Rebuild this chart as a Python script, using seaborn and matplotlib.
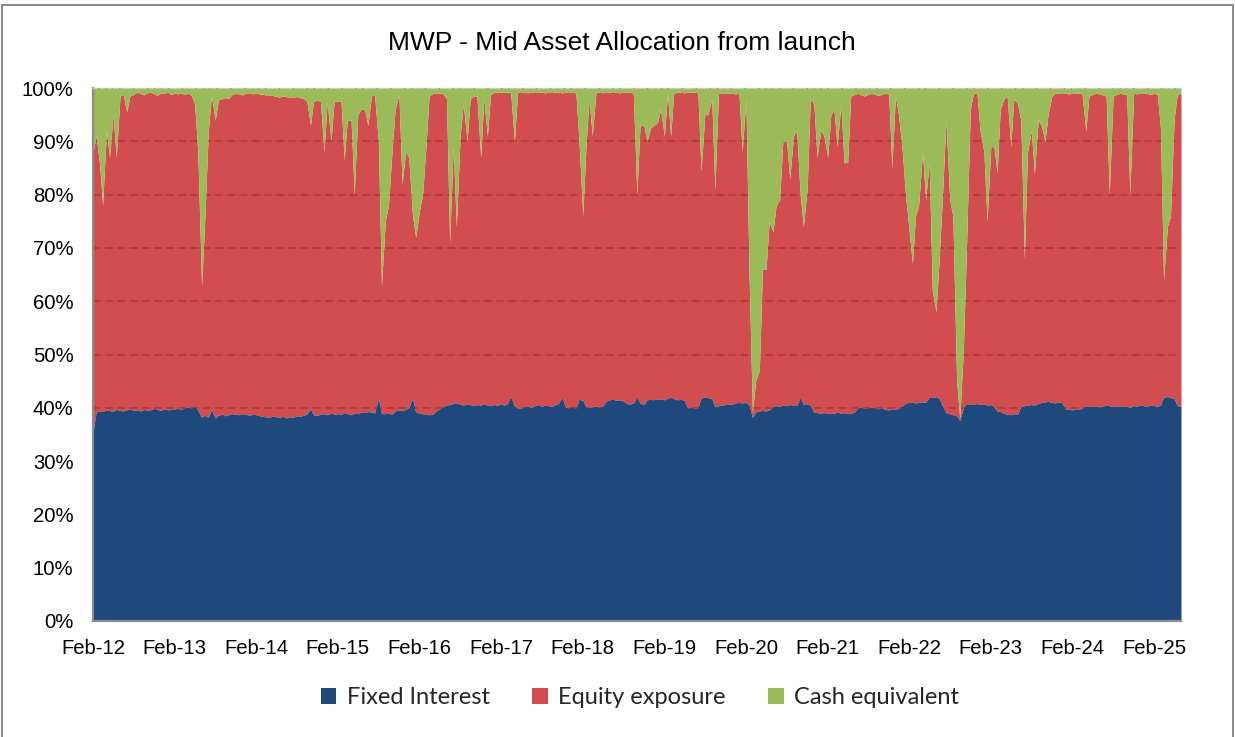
import matplotlib
matplotlib.use("Agg")
import numpy as np
import pandas as pd
import matplotlib.pyplot as plt
import matplotlib.dates as mdates
from matplotlib.patches import Patch, Rectangle
from matplotlib.ticker import FuncFormatter
import seaborn as sns

# ---------------- data (semi-monthly observations, % of portfolio) ----------------
start_date = "2012-02-01"
title_text = "MWP - Mid Asset Allocation from launch"
series_labels = ["Fixed Interest", "Equity exposure", "Cash equivalent"]

fixed_interest = [
    35.5, 39.2, 39.4, 39.3, 39.6, 39.5, 39.3, 39.7, 39.5, 39.4, 39.6, 39.8, 39.5, 39.6, 39.4, 39.7, 39.5, 39.6, 39.9, 39.7, 39.5, 39.8, 39.6, 39.7,
    39.8, 39.9, 39.7, 40.0, 40.1, 40.0, 40.2, 39.6, 38.2, 38.6, 38.2, 39.6, 38.1, 38.6, 38.8, 38.5, 38.7, 38.9, 38.8, 38.7, 38.9, 38.8, 38.6, 38.8,
    38.7, 38.5, 38.4, 38.3, 38.2, 38.5, 38.3, 38.2, 38.4, 38.1, 38.3, 38.2, 38.5, 38.4, 38.6, 38.8, 39.8, 38.7, 38.6, 38.8, 38.9, 38.7, 39.0, 38.8,
    38.9, 38.8, 39.1, 38.9, 38.7, 39.0, 38.9, 39.2, 39.1, 39.3, 39.2, 39.0, 41.8, 38.9, 38.9, 39.0, 38.8, 39.4, 39.6, 39.5, 39.7, 40.0, 41.8, 39.2,
    39.0, 38.9, 38.8, 38.7, 38.8, 39.4, 39.8, 40.2, 40.5, 40.6, 40.8, 40.9, 40.7, 40.5, 40.7, 40.6, 40.4, 40.6, 40.5, 40.8, 40.5, 40.4, 40.6, 40.5,
    40.7, 40.5, 40.8, 42.1, 40.4, 40.0, 39.9, 40.2, 40.3, 40.1, 40.4, 40.6, 40.3, 40.5, 40.4, 40.2, 40.6, 40.8, 42.0, 40.1, 40.0, 40.2, 39.9, 41.6,
    41.4, 40.2, 40.0, 40.2, 40.3, 40.1, 40.3, 41.2, 41.5, 41.6, 41.4, 41.5, 41.3, 40.8, 40.7, 40.9, 42.0, 40.9, 40.6, 41.5, 41.6, 41.5, 41.7, 41.6,
    41.5, 41.8, 42.0, 41.7, 41.5, 41.6, 41.4, 40.0, 40.1, 39.9, 40.0, 41.8, 42.0, 41.9, 41.7, 40.2, 40.4, 40.5, 40.6, 40.7, 40.6, 40.9, 41.0, 40.9,
    41.0, 40.6, 38.2, 39.2, 39.4, 39.5, 39.4, 39.6, 40.2, 40.4, 40.3, 40.5, 40.4, 40.6, 40.5, 40.4, 42.0, 40.6, 40.7, 40.5, 39.2, 39.1, 39.0, 39.1,
    39.0, 38.9, 39.0, 39.2, 39.0, 39.1, 38.9, 39.0, 39.2, 40.0, 40.1, 39.9, 40.0, 40.1, 40.0, 39.8, 40.0, 39.7, 39.6, 39.8, 39.7, 39.9, 40.3, 40.9,
    41.0, 41.1, 40.9, 41.0, 41.1, 41.0, 42.0, 41.9, 42.1, 41.8, 40.2, 39.1, 38.9, 38.7, 38.5, 37.6, 40.0, 40.8, 40.6, 40.7, 40.8, 40.6, 40.7, 40.5,
    40.6, 40.2, 39.4, 39.3, 39.0, 38.8, 38.7, 38.9, 38.8, 40.2, 40.4, 40.5, 40.6, 40.5, 40.8, 41.0, 41.1, 41.2, 41.0, 40.9, 41.1, 41.0, 39.8, 39.7,
    39.6, 39.8, 39.7, 39.9, 40.3, 40.2, 40.4, 40.3, 40.1, 40.3, 40.5, 40.4, 40.2, 40.3, 40.4, 40.2, 40.3, 40.1, 40.4, 40.3, 40.5, 40.4, 40.3, 40.5,
    40.4, 40.3, 40.5, 42.0, 42.1, 41.9, 41.8, 40.4, 40.3,
]

cash_equivalent = [
    12, 9, 14, 22, 8, 13, 5, 13, 1.5, 1.2, 4.5, 1.5, 1.2, 0.8, 1.0, 1.3, 0.9, 0.8, 1.1, 1.4, 0.9, 1.0, 0.8, 1.2,
    1.0, 1.1, 0.9, 1.2, 1.0, 1.3, 3, 12, 37, 25, 8, 1.5, 6, 2.2, 2.0, 1.8, 2.0, 1.2, 1.0, 1.1, 1.3, 1.0, 0.9, 1.1,
    1.0, 1.1, 1.2, 1.3, 1.3, 1.4, 1.6, 1.7, 1.5, 1.6, 1.8, 1.7, 1.6, 1.8, 2.0, 2.5, 7, 2.5, 2.3, 2.5, 12, 2.5, 10, 2.5,
    2.5, 2.5, 13.5, 6, 6, 20, 5, 4, 4, 7, 1.5, 1.2, 10, 37, 25, 22, 12, 4, 1.2, 18, 12, 13, 24, 28,
    23, 20, 11, 1.5, 1.0, 1.0, 1.0, 1.0, 2, 29, 11, 26, 9, 3, 10, 2, 1.5, 1.5, 13, 2, 9, 1.2, 0.8, 0.8,
    0.8, 0.8, 0.8, 0.8, 10, 0.8, 0.7, 0.8, 0.9, 0.8, 0.7, 0.8, 0.8, 0.9, 0.8, 0.7, 0.8, 0.8, 0.9, 0.8, 0.7, 0.8, 0.9, 10,
    24, 11, 2, 9, 0.8, 0.8, 0.9, 0.8, 0.8, 0.7, 0.8, 0.9, 0.8, 0.8, 0.8, 1.0, 20, 7, 7, 10, 7.5, 7, 6.5, 4,
    9, 1, 9, 1, 0.8, 0.8, 0.9, 0.8, 0.8, 0.8, 0.9, 15.6, 5, 5, 2, 19, 1.0, 1.0, 0.9, 1.0, 1.0, 1.1, 1.0, 12,
    2, 35, 61, 55, 53, 34, 34, 25, 27, 22, 21, 10, 10, 17, 9, 8, 20, 26, 19, 2, 3, 13, 8, 9,
    13, 5, 4, 11, 3, 14, 14, 1.5, 1.2, 1.0, 1.3, 1.5, 1.2, 1.0, 1.2, 1.4, 1.2, 1.0, 1.1, 15, 1.5, 5, 12, 20,
    27, 33, 24, 22, 12, 21, 14, 38, 42, 32, 19, 6, 21, 24, 55, 62, 49, 30, 4, 1, 1, 8, 12, 25,
    11, 11, 16, 4, 2, 1.5, 11, 2, 3, 6, 32, 12, 8, 16, 6, 7, 10, 5, 1.5, 1.0, 1.0, 0.9, 1.0, 1.1,
    1.0, 0.9, 1.0, 1.0, 8, 1.5, 1.2, 1.0, 1.1, 1.3, 1.5, 20, 1.5, 1.2, 1.0, 1.1, 1.2, 20, 1.0, 1.1, 1.0, 0.9, 1.0, 1.2,
    1.0, 1.2, 7.5, 36, 26, 24, 6, 1.2, 1.0,
]

y_ticks = [0, 10, 20, 30, 40, 50, 60, 70, 80, 90, 100]

# ---------------- build frame ----------------
dates = pd.date_range(start_date, periods=len(fixed_interest), freq="SMS")
fi = np.array(fixed_interest, dtype=float)
ca = np.array(cash_equivalent, dtype=float)
eq = np.clip(100.0 - fi - ca, 0, None)   # equity is the remainder of the 100% stack
df = pd.DataFrame({"date": dates, series_labels[0]: fi,
                   series_labels[1]: eq, series_labels[2]: ca})

colors = ["#1F497D", "#D24D4F", "#9BBB59"]

sns.set_theme(style="white")
plt.rcParams["font.family"] = ["Liberation Sans", "DejaVu Sans"]

W, H = 1235, 737
fig = plt.figure(figsize=(W / 100, H / 100), dpi=100)
ax = fig.add_axes([93 / W, 1 - 621 / H, (1181 - 93) / W, (621 - 88) / H])

polys = ax.stackplot(df["date"], df[series_labels[0]], df[series_labels[1]],
                     df[series_labels[2]], colors=colors, linewidth=0)
polys[0].set_zorder(2)
polys[1].set_zorder(1)
polys[2].set_zorder(2)

ax.set_xlim(df["date"].iloc[0], df["date"].iloc[-1])
ax.set_ylim(0, 100)
ax.set_yticks(y_ticks)
ax.yaxis.set_major_formatter(FuncFormatter(lambda v, p: f"{int(v)}%"))
ax.xaxis.set_major_locator(mdates.MonthLocator(bymonth=2, bymonthday=1))
ax.xaxis.set_major_formatter(mdates.DateFormatter("%b-%y"))

ax.set_axisbelow(False)
ax.grid(axis="y", color="#A93434", linestyle=(0, (5, 3)), linewidth=1.1, alpha=0.85)
ax.grid(axis="x", visible=False)
ax.yaxis.set_zorder(1.5)

ax.tick_params(axis="both", length=0, labelsize=14.6, colors="black")
ax.tick_params(axis="y", pad=14)
ax.tick_params(axis="x", pad=13)

for side in ["left", "bottom"]:
    ax.spines[side].set_color("#8C8C8C")
    ax.spines[side].set_linewidth(1.6)
ax.spines["right"].set_visible(False)
ax.spines["top"].set_color("#C8C8C8")
ax.spines["top"].set_linestyle((0, (3, 2)))
ax.spines["top"].set_linewidth(1.0)
ax.set_facecolor("white")

fig.text(622 / W, 1 - 43 / H, title_text, ha="center", va="center",
         fontsize=19, color="black")

handles = [Patch(facecolor=c, edgecolor="none") for c in colors]
fig.legend(handles, series_labels, loc="center", bbox_to_anchor=(640 / W, 1 - 698 / H),
           ncol=3, frameon=False, prop={"family": ["Lato", "DejaVu Sans"], "size": 17},
           handlelength=0.65, handleheight=0.65, handletextpad=0.45, columnspacing=1.8)

fig.add_artist(Rectangle((2 / W, -0.02), (1233 - 2) / W, 1 - 5 / H + 0.02,
                         transform=fig.transFigure, fill=False,
                         edgecolor="#8A8A8A", linewidth=1.4))

fig.savefig("out.png", dpi=100)
